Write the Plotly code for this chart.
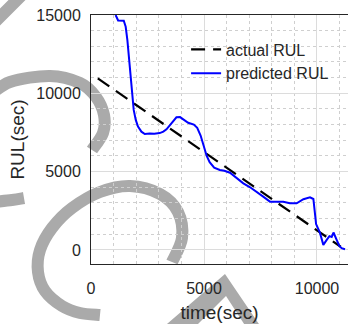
import plotly.graph_objects as go

# ---- data: remaining useful life (seconds) over time (seconds) ----
actual_time = [300, 11050]
actual_rul = [10950, 200]

pred_time = [1090, 1200, 1450, 1535, 1610, 1685, 1760, 1830, 1890, 1980,
             2080, 2230, 2380, 2600, 2800, 3040, 3200, 3340, 3560, 3780,
             3940, 4100, 4300, 4550, 4700, 4850, 5000, 5120, 5250, 5450,
             5700, 5900, 6150, 6450, 6740, 7040, 7330, 7620, 7920, 8220,
             8510, 8800, 9100, 9400, 9690, 9840, 9960, 10130, 10280, 10430,
             10550, 10650, 10730, 10870, 10990, 11090, 11240]
pred_rul = [15000, 14650, 14640, 14250, 13400, 12130, 10850, 9580, 8940, 8300,
            7870, 7550, 7400, 7430, 7420, 7460, 7550, 7700, 8090, 8470,
            8480, 8300, 8120, 8000, 7800, 7300, 6600, 6000, 5600, 5250,
            5100, 5050, 4930, 4580, 4250, 4000, 3720, 3400, 3080, 3090,
            3080, 2980, 2980, 3240, 3360, 3250, 1650, 1100, 320, 640,
            880, 830, 1110, 640, 250, 110, 40]

x_ticks = [0, 5000, 10000]
x_tick_labels = ["0", "5000", "10000"]
y_ticks = [0, 5000, 10000, 15000]
y_tick_labels = ["0", "5000", "10000", "15000"]

# ---- page geometry ----
W, H = 348, 324
M_L, M_R, M_T, M_B = 91, 0, 15, 60
FONT = "Liberation Sans, Arial, Helvetica, sans-serif"
INK = "#262626"

# grey brush strokes laid under the axes (pixel coordinates of the page)
stroke_corner = [(-6, 23), (23, -6)]
stroke_arc = [(-12, 97), (10, 82), (50, 76), (80, 83), (96, 97), (104, 115),
              (103, 133), (92, 150)]
stroke_tail = [(-6, 202), (12, 200), (24, 198)]
stroke_loop = [(172, 262), (182, 238), (178, 212), (160, 194), (130, 186),
               (100, 192), (72, 208), (52, 228), (40, 250), (38, 272),
               (45, 291), (62, 306), (80, 313), (100, 315)]
wedge = [(160, 330), (225, 274), (263, 330), (248, 330), (226, 296), (192, 330)]


def to_paper(pts):
    pw = W - M_L - M_R
    ph = H - M_T - M_B
    return [((x - M_L) / pw, (H - M_B - y) / ph) for x, y in pts]


def smooth_path(pts):
    """Catmull-Rom curve through the points, written as cubic Beziers."""
    p = to_paper(pts)
    d = f"M{p[0][0]:.4f},{p[0][1]:.4f}"
    for i in range(len(p) - 1):
        p0 = p[i - 1] if i > 0 else p[i]
        p1, p2 = p[i], p[i + 1]
        p3 = p[i + 2] if i + 2 < len(p) else p[i + 1]
        c1 = (p1[0] + (p2[0] - p0[0]) / 6, p1[1] + (p2[1] - p0[1]) / 6)
        c2 = (p2[0] - (p3[0] - p1[0]) / 6, p2[1] - (p3[1] - p1[1]) / 6)
        d += (f" C{c1[0]:.4f},{c1[1]:.4f} {c2[0]:.4f},{c2[1]:.4f}"
              f" {p2[0]:.4f},{p2[1]:.4f}")
    return d


def polygon_path(pts):
    p = to_paper(pts)
    return "M" + " L".join(f"{x:.4f},{y:.4f}" for x, y in p) + " Z"


GREY = "#aaaaaa"
shapes = []
for pts in (stroke_corner, stroke_arc, stroke_tail, stroke_loop):
    shapes.append(dict(type="path", xref="paper", yref="paper",
                       path=smooth_path(pts), layer="below",
                       line=dict(color=GREY, width=12)))
shapes.append(dict(type="path", xref="paper", yref="paper",
                   path=polygon_path(wedge), layer="below",
                   fillcolor=GREY, line=dict(width=0)))

fig = go.Figure()
fig.add_trace(go.Scatter(x=actual_time, y=actual_rul, mode="lines",
                         name="actual RUL",
                         line=dict(color="#000000", width=2.2, dash="14px,8px")))
fig.add_trace(go.Scatter(x=pred_time, y=pred_rul, mode="lines",
                         name="predicted RUL",
                         line=dict(color="#0000ff", width=2)))

axis_common = dict(
    showline=True, linecolor=INK, linewidth=1,
    showgrid=True, gridcolor="#dcdcdc", gridwidth=1,
    zeroline=False, ticks="",
    tickfont=dict(family=FONT, size=16, color=INK),
    automargin=False,
)

fig.update_xaxes(
    range=[0, 11372], tickvals=x_ticks, ticktext=x_tick_labels, mirror=True,
    minor=dict(dtick=1000, tick0=0, showgrid=True, gridcolor="#cfcfcf",
               griddash="dot", gridwidth=1),
    ticklabelstandoff=10,
    title=dict(text="time(sec)", font=dict(family=FONT, size=19, color=INK),
               standoff=9),
    **axis_common,
)
fig.update_yaxes(
    range=[-900, 15000], tickvals=y_ticks, ticktext=y_tick_labels, mirror=False,
    minor=dict(dtick=1000, tick0=0, showgrid=True, gridcolor="#cfcfcf",
               griddash="dot", gridwidth=1),
    ticklabelstandoff=6,
    title=dict(text="RUL(sec)", font=dict(family=FONT, size=19, color=INK),
               standoff=6),
    **axis_common,
)

fig.update_layout(
    width=W, height=H,
    margin=dict(l=M_L, r=M_R, t=M_T, b=M_B, pad=0, autoexpand=False),
    paper_bgcolor="white", plot_bgcolor="white",
    shapes=shapes,
    showlegend=True,
    legend=dict(x=0.37, y=0.93, xanchor="left", yanchor="top",
                bgcolor="rgba(0,0,0,0)", borderwidth=0,
                font=dict(family=FONT, size=16, color=INK),
                tracegroupgap=0),
)

fig.write_html("out.html")
